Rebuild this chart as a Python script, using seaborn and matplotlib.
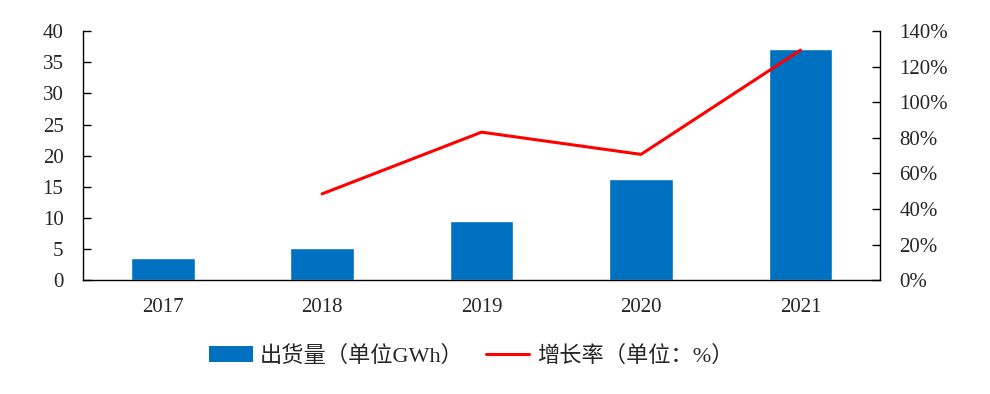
import matplotlib
matplotlib.use('Agg')
import matplotlib.pyplot as plt
import matplotlib.ticker as mticker
from matplotlib.patches import Patch
from matplotlib.lines import Line2D
import seaborn as sns
import pandas as pd

years = ['2017', '2018', '2019', '2020', '2021']
shipments = [3.5, 5.2, 9.5, 16.2, 37.1]       # GWh
growth_years = ['2018', '2019', '2020', '2021']
growth = [48.5, 83.2, 70.7, 129.3]              # %

bar_label = '出货量（单位GWh）'
line_label = '增长率（单位：%）'


def main():
    sns.set_style('white')
    plt.rcParams['font.family'] = ['Liberation Serif', 'Noto Sans CJK SC']
    plt.rcParams['axes.unicode_minus'] = False

    fig = plt.figure(figsize=(9.9, 3.94), dpi=100)
    ax = fig.add_axes([0.0838, 0.289, 0.8052, 0.632])

    df = pd.DataFrame({'year': years, 'value': shipments})
    sns.barplot(data=df, x='year', y='value', order=years, color='#0070C0',
                saturation=1, width=0.4, ax=ax)
    ax.set_ylim(0, 40)
    ax.set_yticks(range(0, 41, 5))
    ax.set_xlim(-0.5, len(years) - 0.5)
    ax.set_xlabel('')
    ax.set_ylabel('')

    # category boundaries get the ticks, labels sit in the middle
    ax.set_xticks([i - 0.5 for i in range(len(years) + 1)])
    ax.set_xticklabels([])
    ax.set_xticks(range(len(years)), minor=True)
    ax.set_xticklabels(years, minor=True)
    ax.tick_params(axis='x', which='major', direction='in', length=6, width=1, color='black')
    ax.tick_params(axis='x', which='minor', length=0, pad=13, labelsize=15)
    ax.tick_params(axis='y', direction='in', length=6, width=1, color='black', pad=14, labelsize=15, left=True)

    ax2 = ax.twinx()
    gdf = pd.DataFrame({'pos': [years.index(y) for y in growth_years], 'growth': growth})
    sns.lineplot(data=gdf, x='pos', y='growth', color='#FF0000', linewidth=2.2, ax=ax2)
    ax2.set_ylim(0, 140)
    ax2.set_yticks(range(0, 141, 20))
    ax2.yaxis.set_major_formatter(mticker.PercentFormatter(xmax=100, decimals=0))
    ax2.set_ylabel('')
    ax2.set_xlabel('')
    ax2.set_xlim(-0.5, len(years) - 0.5)
    ax2.tick_params(axis='y', direction='in', length=6, width=1, color='black', pad=14, labelsize=15, right=True)

    for a in (ax, ax2):
        a.spines['top'].set_visible(False)
        for s in ('left', 'right', 'bottom'):
            a.spines[s].set_color('black')
            a.spines[s].set_linewidth(1)
    ax.spines['right'].set_visible(False)
    ax2.spines['left'].set_visible(False)
    ax2.spines['bottom'].set_visible(False)

    handles = [Patch(facecolor='#0070C0', edgecolor='none', label=bar_label),
               Line2D([0], [0], color='#FF0000', linewidth=2.2, label=line_label)]
    fig.legend(handles=handles, loc='center', bbox_to_anchor=(0.476, 0.096), ncol=2,
               frameon=False, fontsize=16, handlelength=1.95, handletextpad=0.33,
               columnspacing=1.0)

    fig.savefig('out.png', dpi=100)
    plt.close()


if __name__ == '__main__':
    main()
